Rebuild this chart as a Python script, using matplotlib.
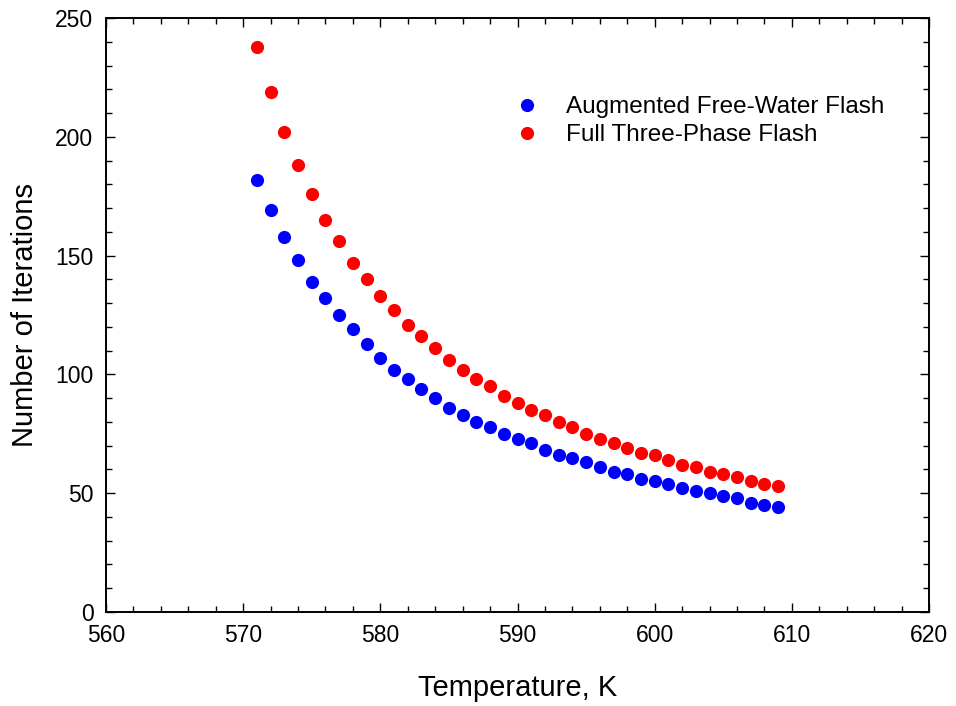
import matplotlib
matplotlib.use('Agg')
import matplotlib.pyplot as plt
from matplotlib.ticker import MultipleLocator

plt.rcParams['font.family'] = ['Liberation Sans', 'DejaVu Sans']

# temperature, K
temps = list(range(571, 610))

# augmented free-water flash iterations
aug_iters = [182, 169, 158, 148, 139, 132, 125, 119, 113, 107,
             102, 98, 94, 90, 86, 83, 80, 78, 75, 73,
             71, 68, 66, 65, 63, 61, 59, 58, 56, 55,
             54, 52, 51, 50, 49, 48, 46, 45, 44]

# full three-phase flash iterations
full_iters = [238, 219, 202, 188, 176, 165, 156, 147, 140, 133,
              127, 121, 116, 111, 106, 102, 98, 95, 91, 88,
              85, 83, 80, 78, 75, 73, 71, 69, 67, 66,
              64, 62, 61, 59, 58, 57, 55, 54, 53]

fig = plt.figure(figsize=(9.56, 7.06), dpi=100)
# axes box: x 106..929 px, y 18..612 px
ax = fig.add_axes([106 / 956, 94 / 706, 823 / 956, 594 / 706])

ax.plot(temps, aug_iters, 'o', color='#0000ff', markersize=9.5,
        markeredgewidth=0, label='Augmented Free-Water Flash')
ax.plot(temps, full_iters, 'o', color='#ff0000', markersize=9.5,
        markeredgewidth=0, label='Full Three-Phase Flash')

ax.set_xlim(560, 620)
ax.set_ylim(0, 250)
ax.xaxis.set_major_locator(MultipleLocator(10))
ax.xaxis.set_minor_locator(MultipleLocator(2))
ax.yaxis.set_major_locator(MultipleLocator(50))
ax.yaxis.set_minor_locator(MultipleLocator(10))
ax.tick_params(which='both', direction='in', top=True, right=True,
               width=1.0, labelsize=16.5)
ax.tick_params(which='major', length=6.5)
ax.tick_params(which='minor', length=4.5)
ax.tick_params(axis='x', pad=9)
ax.tick_params(axis='y', pad=9)
for sp in ax.spines.values():
    sp.set_linewidth(1.4)

ax.set_xlabel('Temperature, K', fontsize=21, labelpad=19)
ax.set_ylabel('Number of Iterations', fontsize=21, labelpad=12)

ax.legend(loc='upper left', bbox_to_anchor=(0.482, 0.868), frameon=False,
          fontsize=17.5, handlelength=2.0, handletextpad=0.6,
          labelspacing=0.23, borderpad=0, borderaxespad=0)

plt.savefig('out.png', dpi=100)
plt.close()
